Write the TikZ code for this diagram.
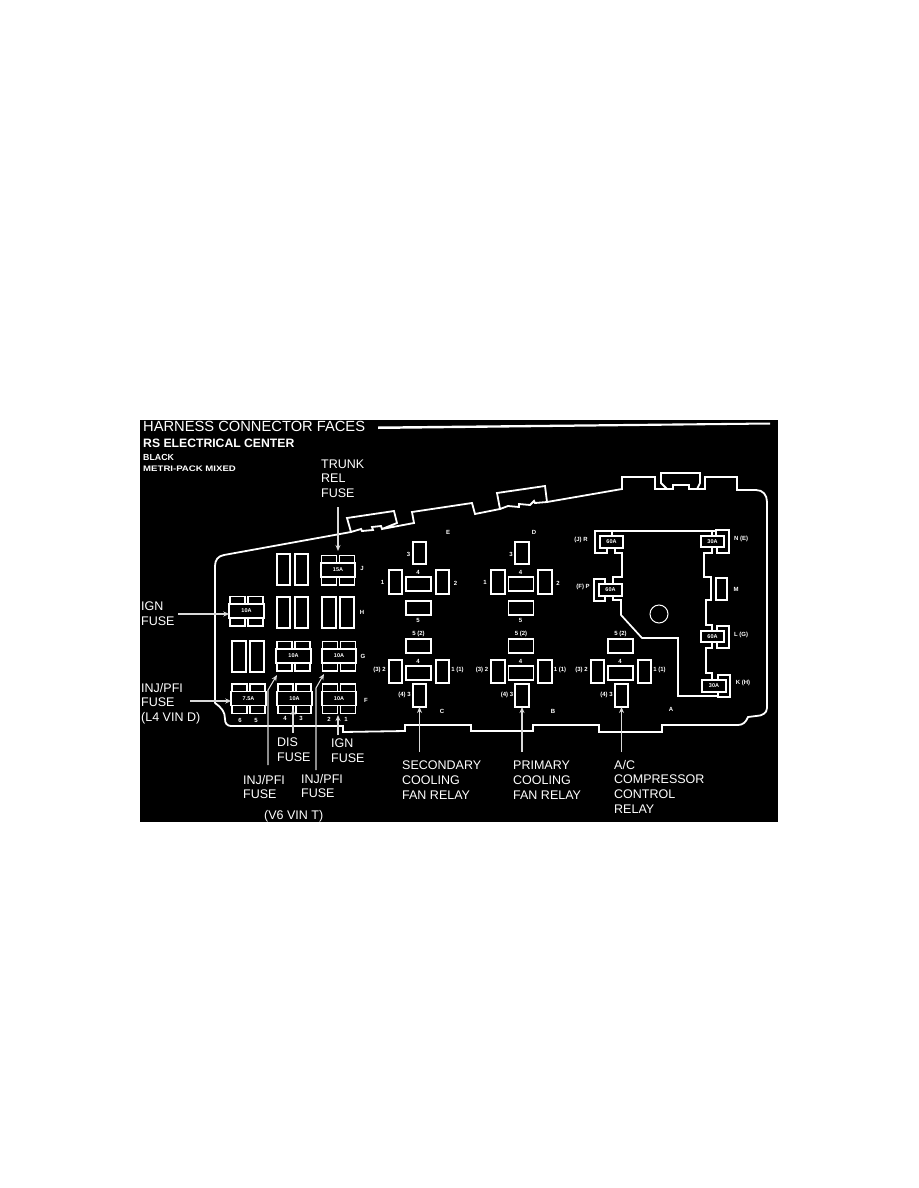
\documentclass[tikz,border=0pt]{standalone}
\usepackage{fontspec}
\setmainfont{Liberation Sans}
\usetikzlibrary{arrows.meta}
\tikzset{
  wline/.style={draw=white,line width=1.7pt,line join=miter},
  pinbox/.style={draw=white,line width=1.8pt,fill=black,inner sep=0pt,outer sep=0pt,minimum width=#1},
  fbody/.style={draw=white,line width=1.8pt,fill=black,inner sep=0pt,outer sep=0pt,text=white,font=\fontsize{5.5}{6}\selectfont\bfseries},
  lab/.style={text=white,inner sep=0pt,anchor=north west,align=left,font=\fontsize{12.5}{14.6}\selectfont},
  tiny/.style={text=white,inner sep=0pt,font=\fontsize{6}{7}\selectfont\bfseries},
  callout/.style={draw=black!15,line width=1.1pt,-{Stealth[length=6pt,width=5pt]}},
}
% name, cx, cy, text : body with two tabs above and two below
\newcommand{\fusebox}[4]{%
  \draw[wline] (#2-16.5,#3-14.5) rectangle (#2-1.5,#3-7);
  \draw[wline] (#2+1.5,#3-14.5) rectangle (#2+16.5,#3-7);
  \draw[wline] (#2-16.5,#3+7) rectangle (#2-1.5,#3+15);
  \draw[wline] (#2+1.5,#3+7) rectangle (#2+16.5,#3+15);
  \node[fbody,minimum width=34.5pt,minimum height=14pt] (#1) at (#2,#3) {#4};}
% name, cx, cy, w, h
\newcommand{\rbox}[5]{\node[pinbox=#4pt,minimum height=#5pt] (#1) at (#2,#3) {};}
\newcommand{\lowrelay}[2]{%
  \rbox{#1five}{#2}{646}{25}{14}
  \rbox{#1four}{#2}{673}{25}{14}
  \rbox{#1two}{#2-23}{671.5}{13.5}{23}
  \rbox{#1one}{#2+24}{671.5}{13.5}{23}
  \rbox{#1three}{#2+1}{695.5}{13.5}{23}
  \node[tiny] (#1t5) at (#2,634) {5 (2)};
  \node[tiny] (#1t4) at (#2-.5,661) {4};
  \node[tiny] (#1t2) at (#2-39,670) {(3) 2};
  \node[tiny] (#1t1) at (#2+39,670) {1 (1)};
  \node[tiny] (#1t3) at (#2-14,695) {(4) 3};}
\newcommand{\uprelay}[2]{%
  \rbox{#1three}{#2+1}{553}{13.5}{22}
  \rbox{#1one}{#2-23}{582}{13.5}{24}
  \rbox{#1four}{#2}{584}{25}{14}
  \rbox{#1two}{#2+24}{582}{13.5}{24}
  \rbox{#1five}{#2}{608}{25}{14}
  \node[tiny] (#1t3) at (#2-10,554) {3};
  \node[tiny] (#1t1) at (#2-36,582) {1};
  \node[tiny] (#1t2) at (#2+37,583) {2};
  \node[tiny] (#1t4) at (#2-.5,572) {4};
  \node[tiny] (#1t5) at (#2-.5,620) {5};}
\begin{document}
\begin{tikzpicture}[x=1pt,y=-1pt]
\useasboundingbox (0,0) rectangle (918,1188);
\fill[white] (0,0) rectangle (918,1188);
\fill[black] (140,420) rectangle (778,822);

% title rule
\fill[white] (378,426.5) -- (770,422.5) -- (770,424.5) -- (378,429) -- cycle;

% housing outline
\draw[wline,line width=1.8pt]
  (215,703) -- (215,566) .. controls (215,560) and (218,556) .. (224,555)
  -- (351,532) -- (347,518) -- (394,511) -- (397,523) -- (382,529) -- (381,526) -- (372,527) -- (373,530) -- (362,531) -- (361,529) -- (351,532)
  (382,529) -- (414,523) -- (412,512) -- (472,503) -- (475,514) -- (500,509) -- (497,493) -- (545,486) -- (547,502) -- (535,503) -- (534,501) -- (530,505) -- (519,504) -- (519,507) -- (508,506) -- (500,509)
  (547,502) -- (622,489) -- (622,477) -- (655,477) -- (655,489) -- (667,489) -- (661,483) -- (661,473) -- (700,473) -- (700,483) -- (697,489) -- (689,489) -- (689,485) -- (673,485) -- (673,489) -- (667,489)
  (697,489) -- (705,489) -- (705,477) -- (737,477) -- (737,490) -- (756,490) .. controls (763,490) and (767,495) .. (767,502)
  -- (767,708) .. controls (767,713) and (762,716) .. (756,716) -- (748,717) .. controls (746,722) and (743,725) .. (738,725)
  -- (662,725) -- (662,732) -- (599,732) -- (599,725) -- (533,725) -- (533,731) -- (471,731) -- (471,725) -- (405,725) -- (405,731) -- (343,732) -- (343,726) -- (231,726)
  .. controls (227,726) and (225,723) .. (225,719) .. controls (225,712) and (222,708) .. (215,703);

% inner block
\draw[wline]
  (612,536) -- (612,531) -- (595,531) -- (595,553) -- (607,553) -- (607,548)
  (615,548) -- (615,553) -- (622,553) -- (622,577) -- (613,577) -- (613,584)
  (609,584) -- (605,584) -- (605,579) -- (594,579) -- (594,601) -- (605,601) -- (605,596)
  (613,596) -- (613,600) -- (621,600) -- (621,615) -- (642,638) -- (678,638) -- (678,696) -- (718,696)
  (612,531) -- (716,531)
  (712,531) -- (712,536)
  (716,536) -- (716,530) -- (729,530) -- (729,553) -- (717,553) -- (717,547)
  (712,547) -- (712,553) -- (704,553) -- (704,577) -- (711,577) -- (711,600) -- (706,600) -- (706,625) -- (712,625) -- (712,631)
  (717,631) -- (717,626) -- (729,626) -- (729,648) -- (717,648) -- (717,642)
  (712,642) -- (712,648) -- (706,648) -- (706,673) -- (712,673) -- (712,680)
  (718,680) -- (718,675) -- (730,675) -- (730,697) -- (718,697) -- (718,692);
\node[fbody,minimum width=23pt,minimum height=12pt] (fR) at (611.5,542) {60A};
\node[fbody,minimum width=23pt,minimum height=12pt] (fP) at (610.5,590) {60A};
\node[fbody,minimum width=23pt,minimum height=11pt] (fN) at (712.5,541.5) {30A};
\node[fbody,minimum width=23pt,minimum height=11pt] (fL) at (712.5,636.5) {60A};
\node[fbody,minimum width=24pt,minimum height=12pt] (fK) at (714,686) {30A};
\rbox{pinM}{721.5}{589}{11}{22}
\node[draw=white,line width=1pt,circle,minimum size=18pt,inner sep=0pt] (hole) at (659,614) {};

% empty fuse cavities
\rbox{j1}{283.5}{569.5}{13}{31}\rbox{j2}{301.5}{569.5}{13}{31}
\rbox{h1}{283.5}{612.5}{13}{31}\rbox{h2}{301.5}{612.5}{13}{31}
\rbox{h3}{329}{612.5}{14}{31}\rbox{h4}{347}{612.5}{14}{31}
\rbox{g1}{239}{656.5}{14}{31}\rbox{g2}{257}{656.5}{14}{31}

% fuses
\fusebox{fJ}{338}{570}{15A}
\fusebox{fI}{246.5}{611}{10A}
\fusebox{fG1}{293.5}{656}{10A}
\fusebox{fG2}{339}{656}{10A}
\fusebox{fF0}{248.5}{698.5}{7.5A}
\fusebox{fF1}{294.5}{698.5}{10A}
\fusebox{fF2}{339}{698.5}{10A}

% relays
\uprelay{e}{418.5}
\uprelay{d}{521}
\lowrelay{c}{418.5}
\lowrelay{b}{521}
\lowrelay{a}{620.5}

% small letters
\node[tiny] (tE) at (448,532) {E};
\node[tiny] (tD) at (534,532) {D};
\node[tiny] (tC) at (442,711) {C};
\node[tiny] (tB) at (553,711) {B};
\node[tiny] (tA) at (671,709) {A};
\node[tiny] (tJ) at (362,568) {J};
\node[tiny] (tH) at (362,612) {H};
\node[tiny] (tG) at (363,656) {G};
\node[tiny] (tF) at (366,700) {F};
\node[tiny] (p6) at (240,720) {6};
\node[tiny] (p5) at (256,720) {5};
\node[tiny] (p4) at (285,718) {4};
\node[tiny] (p3) at (301,718) {3};
\node[tiny] (p2) at (329,719) {2};
\node[tiny] (p1) at (346,719) {1};
\node[tiny] (tR) at (581,540) {(J) R};
\node[tiny] (tP) at (583,587) {(F) P};
\node[tiny] (tN) at (741,539) {N (E)};
\node[tiny] (tM) at (736,589) {M};
\node[tiny] (tL) at (741,635) {L (G)};
\node[tiny] (tK) at (743,683) {K (H)};

% headings
\node[text=white,inner sep=0pt,anchor=base west,font=\fontsize{14.7}{18}\selectfont] (title) at (143,431.5) {HARNESS CONNECTOR FACES};
\node[text=white,inner sep=0pt,anchor=base west,font=\fontsize{12.2}{13}\selectfont\bfseries] (sub) at (143,447.5) {RS ELECTRICAL CENTER};
\node[text=white,inner sep=0pt,anchor=base west,font=\fontsize{8.8}{10}\selectfont\bfseries] (blk) at (143,460.5) {BLACK};
\node[text=white,inner sep=0pt,anchor=base west,xscale=1.2,font=\fontsize{8}{9}\selectfont\bfseries] (mix) at (143,471) {METRI-PACK MIXED};

% callout labels
\node[lab] (lTrunk) at (321,459.5) {TRUNK\\REL\\FUSE};
\node[lab] (lIgn) at (141,602) {IGN\\FUSE};
\node[lab] (lInj) at (141,683) {INJ/PFI\\FUSE\\(L4 VIN D)};
\node[lab] (lDis) at (277,738) {DIS\\FUSE};
\node[lab] (lIgnb) at (331,739) {IGN\\FUSE};
\node[lab] (lInja) at (243,775) {INJ/PFI\\FUSE};
\node[lab] (lInjb) at (301,774) {INJ/PFI\\FUSE};
\node[lab] (lV6) at (264,810) {(V6 VIN T)};
\node[lab] (lSec) at (402,761) {SECONDARY\\COOLING\\FAN RELAY};
\node[lab] (lPri) at (513,761) {PRIMARY\\COOLING\\FAN RELAY};
\node[lab] (lAc) at (614,760) {A/C\\COMPRESSOR\\CONTROL\\RELAY};

% arrows
\coordinate (aT) at (338,507);
\coordinate (bT) at (338,551);
\coordinate (aI) at (178,614);
\coordinate (aJ) at (190,701);
\coordinate (aD) at (293,733);
\coordinate (bD) at (293,709);
\coordinate (aG) at (338,735);
\coordinate (bG) at (338,715);
\coordinate (aA) at (268,765);
\coordinate (kA) at (268,690);
\coordinate (bA) at (277,675);
\coordinate (aB) at (316,770);
\coordinate (kB) at (316,688);
\coordinate (bB) at (324,674);
\coordinate (aS) at (cthree.south |- 0,752);
\coordinate (aP) at (bthree.south |- 0,752);
\coordinate (aC) at (athree.south |- 0,752);
\draw[callout] (aT) -- (bT);
\draw[callout] (aI) -- (aI -| fI.west);
\draw[callout] (aJ) -- (aJ -| fF0.west);
\draw[callout] (aD) -- (bD);
\draw[callout] (aG) -- (bG);
\draw[callout] (aA) -- (kA) -- (bA);
\draw[callout] (aB) -- (kB) -- (bB);
\draw[callout] (aS) -- (cthree.south);
\draw[callout] (aP) -- (bthree.south);
\draw[callout] (aC) -- (athree.south);
\end{tikzpicture}
\end{document}
